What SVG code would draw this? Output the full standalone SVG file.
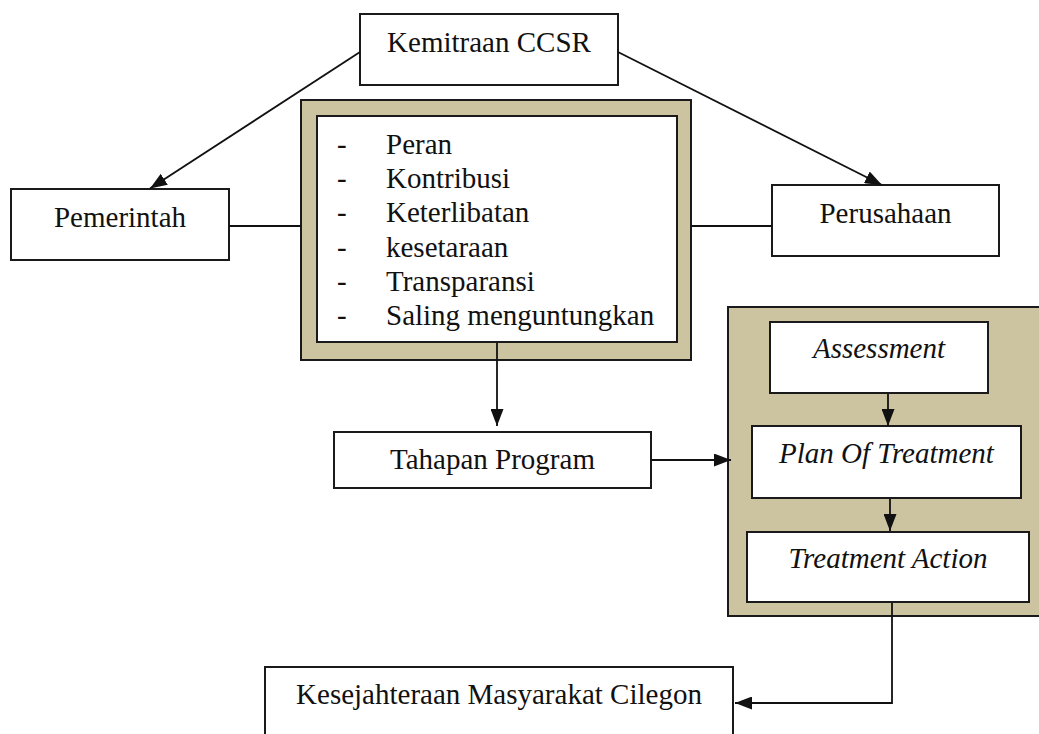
<svg xmlns="http://www.w3.org/2000/svg" width="1039" height="734" viewBox="0 0 1039 734">
<style>
.box{fill:#ffffff;stroke:#1a1a1a;stroke-width:2}
.frame{fill:#ccc4a0;stroke:#1a1a1a;stroke-width:2}
.t{font-family:"Liberation Serif","Times New Roman",serif;font-size:29px;fill:#111}
.c{text-anchor:middle}
.i{font-style:italic}
.ln{fill:none;stroke:#111;stroke-width:1.8}
</style>
<defs>
<marker id="ah" markerUnits="userSpaceOnUse" markerWidth="17" markerHeight="13" refX="17" refY="6.5" orient="auto">
<path d="M0,0 L17,6.5 L0,13 z" fill="#111"/>
</marker>
</defs>
<rect width="1039" height="734" fill="#ffffff"/>

<g id="kemitraan">
<rect class="box" x="360" y="14" width="258" height="71"/>
<text class="t c" x="489" y="52">Kemitraan CCSR</text>
</g>

<g id="pemerintah">
<rect class="box" x="11" y="189" width="218" height="71"/>
<text class="t c" x="120" y="227">Pemerintah</text>
</g>

<g id="perusahaan">
<rect class="box" x="772" y="185" width="227" height="71"/>
<text class="t c" x="885.5" y="223">Perusahaan</text>
</g>

<g id="prinsip">
<rect class="frame" x="301" y="100" width="390" height="260"/>
<rect class="box" x="317" y="116" width="360" height="226"/>
<g class="t">
<text x="337" y="154">-</text><text x="386" y="154">Peran</text>
<text x="337" y="188">-</text><text x="386" y="188">Kontribusi</text>
<text x="337" y="222">-</text><text x="386" y="222">Keterlibatan</text>
<text x="337" y="257">-</text><text x="386" y="257">kesetaraan</text>
<text x="337" y="291">-</text><text x="386" y="291">Transparansi</text>
<text x="337" y="325">-</text><text x="386" y="325">Saling menguntungkan</text>
</g>
</g>

<g id="tahapan">
<rect class="box" x="334" y="432" width="317" height="56"/>
<text class="t c" x="492.5" y="469">Tahapan Program</text>
</g>

<g id="proses">
<rect class="frame" x="728" y="307" width="320" height="309"/>
<g id="assessment">
<rect class="box" x="770" y="322" width="218" height="71"/>
<text class="t c i" x="879" y="358">Assessment</text>
</g>
<g id="plan">
<rect class="box" x="752" y="426" width="269" height="72"/>
<text class="t c i" x="886.5" y="463">Plan Of Treatment</text>
</g>
<g id="action">
<rect class="box" x="747" y="532" width="282" height="70"/>
<text class="t c i" x="888" y="568">Treatment Action</text>
</g>
</g>

<g id="kesejahteraan">
<rect class="box" x="265" y="667" width="468" height="80"/>
<text class="t c" x="499" y="704">Kesejahteraan Masyarakat Cilegon</text>
</g>

<g id="connectors">
<line class="ln" x1="360" y1="52" x2="150" y2="188.5" marker-end="url(#ah)"/>
<line class="ln" x1="618" y1="52" x2="882" y2="185" marker-end="url(#ah)"/>
<line class="ln" x1="229" y1="226" x2="301" y2="226"/>
<line class="ln" x1="691" y1="226" x2="772" y2="226"/>
<line class="ln" x1="497" y1="343" x2="497" y2="426" marker-end="url(#ah)"/>
<line class="ln" x1="651" y1="460" x2="731" y2="460" marker-end="url(#ah)"/>
<line class="ln" x1="888" y1="394" x2="888" y2="426" marker-end="url(#ah)"/>
<line class="ln" x1="890" y1="499" x2="890" y2="531" marker-end="url(#ah)"/>
<polyline class="ln" points="892,603 892,703 735,703" marker-end="url(#ah)"/>
</g>
</svg>
